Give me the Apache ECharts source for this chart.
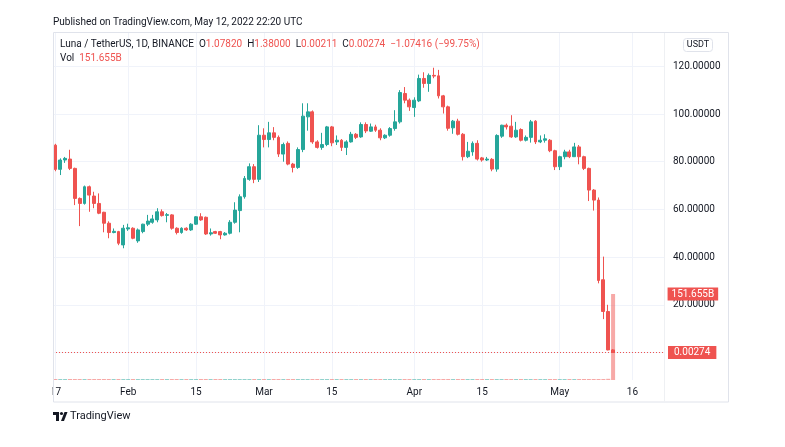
<!DOCTYPE html>
<html>
<head>
<meta charset="utf-8">
<script src="https://cdn.jsdelivr.net/npm/echarts@6/dist/echarts.min.js"></script>
<style>
  html, body { margin: 0; padding: 0; background: #fff; }
  #chart { width: 785px; height: 447px; }
</style>
</head>
<body>
<div id="chart"></div>
<script>
const startDate = '2022-01-17'
const dayCount = 126

const opens = [86.9, 76.8, 80.7, 81.1, 77.2, 64.6, 62.5, 69.5, 65.6, 62.5,
  58.8, 54.2, 50.3, 50.7, 45.1, 51.8, 52.1, 46.8, 50.7, 53.8,
  54.6, 55.6, 59.0, 57.5, 57.7, 52.1, 50.3, 52.1, 51.4, 53.8,
  56.9, 56.7, 49.7, 50.7, 50.7, 49.3, 50.0, 54.6, 59.5, 65.3,
  72.6, 77.9, 72.6, 91.1, 89.3, 92.1, 90.2, 83.2, 87.7, 79.0,
  77.6, 85.1, 98.8, 100.9, 88.3, 86.0, 87.2, 94.6, 88.3, 89.0,
  86.0, 88.3, 91.5, 90.4, 95.6, 92.8, 94.6, 93.2, 90.0, 91.1,
  93.9, 96.7, 108.6, 105.8, 102.7, 105.5, 114.9, 112.8, 116.2, 116.0,
  107.6, 103.0, 94.2, 97.0, 91.5, 82.1, 84.1, 87.7, 81.6, 80.7,
  81.0, 76.9, 90.7, 95.3, 94.9, 90.4, 93.5, 89.0, 90.2, 97.0,
  88.3, 89.0, 89.0, 84.6, 77.9, 82.1, 84.1, 82.1, 86.2, 82.1,
  77.2, 68.1, 63.9, 30.5, 17.2, 1.0782]
const closes = [76.8, 80.7, 81.4, 77.2, 64.6, 62.5, 69.5, 66.0, 62.5, 58.4,
  54.2, 50.3, 50.8, 45.8, 52.1, 52.3, 47.9, 51.4, 53.8, 55.1,
  56.0, 59.0, 57.4, 57.8, 52.1, 50.3, 52.1, 51.4, 53.8, 56.9,
  55.6, 49.7, 50.2, 50.0, 49.3, 50.0, 54.6, 59.7, 65.3, 73.0,
  77.9, 72.6, 91.1, 89.3, 92.1, 90.2, 83.2, 87.2, 79.0, 77.6,
  85.1, 99.1, 100.9, 88.3, 86.0, 87.2, 94.6, 87.9, 89.0, 86.0,
  88.3, 91.5, 90.2, 95.6, 92.9, 94.6, 93.2, 90.0, 91.1, 93.9,
  96.7, 109.0, 105.8, 103.0, 105.8, 114.9, 112.8, 116.2, 115.9, 107.6,
  103.0, 94.0, 97.0, 91.5, 82.1, 84.4, 87.7, 81.1, 80.7, 81.1,
  76.9, 91.0, 95.3, 94.6, 90.4, 93.2, 89.0, 90.2, 96.7, 88.3,
  89.0, 89.6, 84.6, 77.9, 82.1, 84.1, 82.1, 86.2, 82.1, 77.2,
  68.1, 63.9, 30.2, 17.2, 1.0769, 0.00274]
const highs = [87.5, 81.4, 82.0, 85.0, 77.5, 65.0, 70.0, 70.0, 67.4, 66.7,
  59.0, 55.0, 52.0, 51.0, 53.5, 54.0, 52.5, 52.0, 54.0, 57.7,
  57.7, 60.5, 60.0, 58.5, 58.0, 52.5, 52.5, 52.5, 54.2, 57.2,
  58.4, 57.0, 52.0, 51.0, 51.0, 50.5, 55.5, 63.0, 66.3, 74.0,
  79.3, 79.0, 95.3, 94.0, 96.7, 94.5, 91.0, 88.0, 88.5, 79.5,
  86.0, 104.5, 104.5, 101.5, 89.0, 92.1, 95.0, 95.0, 91.0, 89.5,
  89.0, 92.5, 92.0, 96.5, 96.5, 96.0, 95.5, 94.0, 91.5, 94.5,
  101.6, 110.0, 111.3, 106.5, 107.0, 116.5, 117.5, 117.0, 119.4, 118.5,
  108.0, 103.5, 97.5, 98.0, 92.0, 88.3, 88.5, 89.0, 82.0, 82.0,
  81.5, 91.5, 95.5, 96.0, 99.5, 96.7, 94.0, 91.0, 97.5, 97.4,
  91.0, 91.5, 89.5, 85.0, 82.5, 85.0, 85.0, 87.9, 87.0, 82.5,
  77.5, 68.5, 65.0, 40.2, 20.0, 1.38]
const lows = [76.0, 74.4, 79.5, 76.5, 61.8, 53.0, 62.0, 59.0, 60.5, 58.0,
  50.4, 47.9, 50.0, 45.0, 43.7, 51.0, 47.5, 46.0, 50.0, 53.0,
  54.0, 54.6, 57.0, 54.6, 51.5, 49.5, 49.8, 51.0, 51.0, 53.5,
  55.2, 49.3, 49.0, 49.7, 47.5, 49.0, 49.5, 54.0, 50.4, 64.5,
  72.0, 71.0, 71.5, 86.0, 86.0, 89.0, 82.0, 80.0, 78.5, 75.5,
  77.0, 84.0, 93.0, 87.5, 85.5, 85.0, 86.5, 86.5, 87.0, 84.5,
  82.8, 88.0, 89.5, 90.0, 92.0, 92.5, 92.5, 89.0, 89.5, 90.5,
  93.0, 96.0, 104.5, 101.3, 98.8, 105.0, 111.0, 109.3, 115.0, 106.5,
  100.2, 93.0, 91.7, 91.0, 80.5, 81.5, 82.5, 80.5, 80.0, 80.3,
  76.0, 75.8, 90.0, 93.5, 90.0, 90.0, 88.5, 88.5, 88.0, 87.4,
  87.8, 88.0, 84.0, 76.5, 76.5, 81.0, 81.5, 82.0, 78.9, 76.5,
  63.5, 59.5, 29.0, 14.0, 0.9, 0.00211]
// volume in billions of LUNA
const volumes = [0.012, 0.009, 0.008, 0.011, 0.018, 0.016, 0.013, 0.012, 0.011, 0.014,
  0.016, 0.017, 0.012, 0.015, 0.019, 0.011, 0.013, 0.012, 0.010, 0.011,
  0.009, 0.012, 0.010, 0.009, 0.013, 0.011, 0.008, 0.007, 0.009, 0.011,
  0.010, 0.014, 0.012, 0.008, 0.011, 0.009, 0.013, 0.014, 0.022, 0.016,
  0.013, 0.011, 0.024, 0.019, 0.017, 0.012, 0.015, 0.013, 0.012, 0.011,
  0.013, 0.021, 0.018, 0.016, 0.010, 0.011, 0.014, 0.012, 0.009, 0.010,
  0.011, 0.010, 0.008, 0.012, 0.010, 0.009, 0.008, 0.009, 0.007, 0.008,
  0.012, 0.016, 0.014, 0.011, 0.010, 0.013, 0.012, 0.011, 0.012, 0.014,
  0.013, 0.015, 0.011, 0.010, 0.016, 0.012, 0.010, 0.011, 0.008, 0.007,
  0.009, 0.016, 0.013, 0.011, 0.012, 0.009, 0.010, 0.008, 0.012, 0.013,
  0.009, 0.008, 0.010, 0.013, 0.011, 0.010, 0.009, 0.010, 0.012, 0.014,
  0.028, 0.041, 0.17, 0.42, 2.1, 151.655]

const tickDays = ['2022-01-17', '2022-02-01', '2022-02-15', '2022-03-01', '2022-03-15',
  '2022-04-01', '2022-04-15', '2022-05-01', '2022-05-16']
const tickLabels = ['17', 'Feb', '15', 'Mar', '15', 'Apr', '15', 'May', '16']

const upColor = '#26a69a'
const downColor = '#ef5350'
const textColor = '#131722'
const gridColor = '#f0f3fa'
const font = 'Roboto, "Liberation Sans", sans-serif'

let dates = []
let d0 = new Date(startDate + 'T00:00:00Z')
for (let i = 0; i < dayCount; i++) {
  dates.push(new Date(d0.getTime() + i * 86400000).toISOString().slice(0, 10))
}

let candles = opens.map((o, i) => [o, closes[i], lows[i], highs[i]])
let volData = volumes.map((v, i) => ({
  value: v,
  itemStyle: {color: closes[i] >= opens[i] ? 'rgba(38,166,154,0.5)' : 'rgba(239,83,80,0.5)'}
}))

let last = opens.length - 1
let lastClose = closes[last]
let change = lastClose - closes[last - 1]
let pct = change / closes[last - 1] * 100
let fmt = v => v.toFixed(5)
let signed = v => (v < 0 ? '\u2212' : '') + Math.abs(v).toFixed(5)
let headerText = 'Luna / TetherUS, 1D, BINANCE  O{r|' + fmt(opens[last]) + '}  H{r|' + fmt(highs[last]) +
  '}  L{r|' + fmt(lows[last]) + '}  C{r|' + fmt(lastClose) + '}  {r|' + signed(change) +
  ' (' + (pct < 0 ? '\u2212' : '') + Math.abs(pct).toFixed(2) + '%)}'
let volText = 'Vol  {r|' + volumes[last].toFixed(3) + 'B}'

let isTick = (idx, value) => tickDays.indexOf(value) >= 0

let option = {
  backgroundColor: '#fff',
  animation: false,
  textStyle: {fontFamily: font},
  grid: [
    {left: 53, right: 121, top: 66.3, bottom: 94.5},
    {left: 55.425, right: 123.425, top: 33, bottom: 67}
  ],
  xAxis: [
    {type: 'category', gridIndex: 0, data: dates, boundaryGap: true, show: false},
    {
      type: 'category', gridIndex: 1, data: dates, boundaryGap: false,
      axisLine: {show: false},
      axisTick: {show: false},
      axisLabel: {
        interval: isTick,
        formatter: v => tickLabels[tickDays.indexOf(v)],
        color: textColor, fontSize: 10, margin: 7, fontFamily: font
      },
      splitLine: {show: true, interval: isTick, lineStyle: {color: gridColor}}
    }
  ],
  yAxis: [
    {
      type: 'value', gridIndex: 0, position: 'right', min: 0, max: 120, interval: 20,
      axisLine: {show: false}, axisTick: {show: false},
      axisLabel: {
        formatter: v => v === 0 ? '' : v.toFixed(5),
        color: textColor, fontSize: 10, margin: 9, fontFamily: font
      },
      splitLine: {lineStyle: {color: gridColor}}
    },
    {type: 'value', gridIndex: 1, min: 0, max: 612, show: false}
  ],
  series: [
    {
      type: 'bar', xAxisIndex: 1, yAxisIndex: 1, data: volData,
      barWidth: 4, barMinHeight: 1, clip: false, silent: true,
      markLine: {
        silent: true, symbol: ['none', 'none'],
        lineStyle: {color: 'rgba(0,0,0,0)', width: 0},
        data: [{yAxis: volumes[last]}],
        label: {
          show: true, position: 'end', distance: 6, formatter: volumes[last].toFixed(3) + 'B',
          backgroundColor: downColor, color: '#fff', padding: [2, 4, 1, 4],
          fontSize: 10, fontFamily: font
        }
      }
    },
    {
      type: 'candlestick', xAxisIndex: 0, yAxisIndex: 0, data: candles,
      barWidth: 3.4,
      itemStyle: {color: upColor, color0: downColor, borderColor: upColor, borderColor0: downColor, borderWidth: 1},
      markLine: {
        silent: true, symbol: ['none', 'none'],
        lineStyle: {color: downColor, type: [1, 2], width: 1},
        data: [{yAxis: lastClose}],
        label: {
          position: 'end', distance: 4, formatter: fmt(lastClose),
          backgroundColor: downColor, color: '#fff', padding: [2, 6, 1, 6],
          fontSize: 10, fontFamily: font
        }
      }
    }
  ],
  graphic: [
    {type: 'rect', z: 100, shape: {x: 36, y: 383, width: 16.5, height: 17}, style: {fill: '#fff'}},
    {type: 'rect', z: 100, shape: {x: 53.5, y: 32.5, width: 675, height: 369.5}, style: {fill: null, stroke: '#e0e3eb', lineWidth: 1}},
    {type: 'line', z: 100, shape: {x1: 664.5, y1: 33, x2: 664.5, y2: 401.5}, style: {stroke: '#eef0f3', lineWidth: 1}},
    {type: 'text', z: 100, x: 53, y: 17, style: {text: 'Published on TradingView.com, May 12, 2022 22:20 UTC', fill: textColor, font: '10px ' + font}},
    {type: 'text', z: 100, x: 60, y: 39.5, style: {
      text: headerText, fill: textColor, font: '10px ' + font,
      rich: {r: {fill: downColor, font: '10px ' + font}}
    }},
    {type: 'text', z: 100, x: 60, y: 53.5, style: {
      text: volText, fill: textColor, font: '10px ' + font,
      rich: {r: {fill: downColor, font: '10px ' + font}}
    }},
    {type: 'rect', z: 100, shape: {x: 683.5, y: 38.5, width: 29, height: 13, r: 3}, style: {fill: '#fff', stroke: '#e0e3eb'}},
    {type: 'text', z: 101, x: 698, y: 45, style: {text: 'USDT', fill: textColor, font: '9px ' + font, textAlign: 'center', textVerticalAlign: 'middle'}},
    {type: 'rect', z: 100, shape: {x: 53, y: 412, width: 6, height: 3}, style: {fill: '#131722'}},
    {type: 'rect', z: 100, shape: {x: 56, y: 412, width: 3, height: 9}, style: {fill: '#131722'}},
    {type: 'circle', z: 100, shape: {cx: 61.5, cy: 413.5, r: 1.6}, style: {fill: '#131722'}},
    {type: 'polygon', z: 100, shape: {points: [[61, 421], [64.5, 412], [67.5, 412], [64, 421]]}, style: {fill: '#131722'}},
    {type: 'text', z: 100, x: 70, y: 411, style: {text: 'TradingView', fill: textColor, font: '11px ' + font}}
  ]
}

let c = echarts.init(document.getElementById('chart'), null, {renderer: 'canvas'})
c.setOption(option)
</script>
</body>
</html>
